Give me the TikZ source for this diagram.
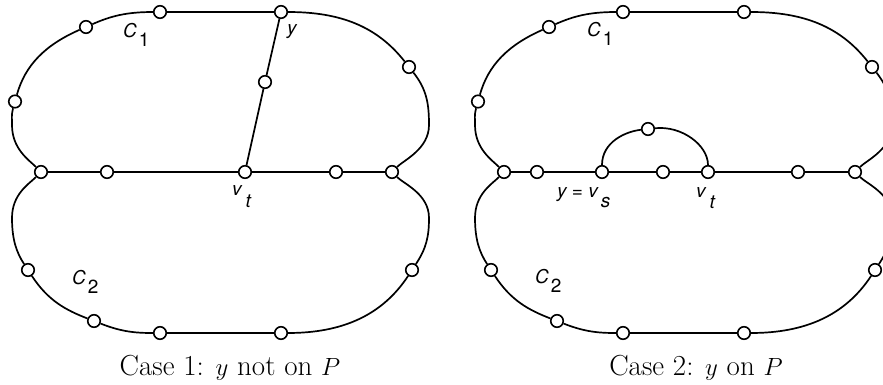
\documentclass[tikz,border=0pt]{standalone}
\usepackage{fontspec}
\setsansfont{TeX Gyre Heros}
\tikzset{
  vtx/.style={circle, draw, fill=white, line width=1.6pt, minimum size=12.5pt, inner sep=0pt},
  edge/.style={line width=1.7pt},
  lab/.style={font=\fontsize{19}{22}\selectfont\sffamily\itshape, inner sep=0pt, anchor=base west},
  capt/.style={font=\fontsize{29}{34}\selectfont, inner sep=0pt, anchor=base},
}
\newcommand\myouter{%
  \node[vtx] (m1) at (41,-172) {};
  \node[vtx] (m5) at (392,-172) {};
  \node[vtx] (t1) at (160,-12) {};
  \node[vtx] (t2) at (281,-12) {};
  \node[vtx] (tl1) at (86,-27) {};
  \node[vtx] (tl2) at (15,-101.5) {};
  \node[vtx] (tr1) at (409,-67) {};
  \node[vtx] (bl1) at (28,-270) {};
  \node[vtx] (bl2) at (94,-321) {};
  \node[vtx] (b1) at (160,-333) {};
  \node[vtx] (b2) at (281,-333) {};
  \node[vtx] (br1) at (412,-270) {};
  \coordinate (L) at (12,-125);
  \coordinate (R) at (429,-125);
  \coordinate (BL) at (12,-218);
  \coordinate (BR) at (429,-218);
  \draw[edge] (t2) -- (t1) to[out=180,in=23.8] (tl1) to[out=203.8,in=74.4] (tl2)
     to[out=254.4,in=90] (L) .. controls +(0,-24) and +(-12,12) .. (m1);
  \draw[edge] (t2) to[out=0,in=128.2] (tr1) to[out=-51.8,in=90] (R)
     .. controls +(0,-24) and +(12,12) .. (m5);
  \draw[edge] (m1) .. controls +(-12,-12) and +(0,24) .. (BL) to[out=270,in=123.3] (bl1)
     to[out=303.3,in=158.8] (bl2) to[out=338.8,in=180] (b1) -- (b2)
     to[out=0,in=236.7] (br1) to[out=56.7,in=270] (BR) .. controls +(0,24) and +(12,-12) .. (m5);
}
\begin{document}
\begin{tikzpicture}[x=1pt,y=1pt]
\useasboundingbox (0,0) rectangle (883,-385);
\clip (0,0) rectangle (883,-385);
% Case 1
\begin{scope}[name prefix=A-]
  \myouter
  \node[vtx] (m2) at (107,-172) {};
  \node[vtx] (vt) at (245,-172) {};
  \node[vtx] (m4) at (336,-172) {};
  \node[vtx] (c) at (265,-82) {};
  \draw[edge] (m1) -- (m2) -- (vt) -- (m4) -- (m5);
  \draw[edge] (t2) -- (c) -- (vt);
  \node[lab] (lc1) at (123,-37.5) {C\hspace{2pt}\raisebox{-9pt}{\upshape 1}};
  \node[lab] (ly) at (287,-35) {y};
  \node[lab] (lvt) at (232,-195) {v\hspace{4pt}\raisebox{-12pt}{t}};
  \node[lab] (lc2) at (72,-284) {C\hspace{2pt}\raisebox{-9pt}{\upshape 2}};
  \node[capt] (cap) at (230,-375) {Case 1: $y$ not on $P$};
\end{scope}
% Case 2
\begin{scope}[xshift=463pt, name prefix=B-]
  \myouter
  \node[vtx] (m2) at (74,-172) {};
  \node[vtx] (vs) at (139,-172) {};
  \node[vtx] (m3) at (200,-172) {};
  \node[vtx] (vt) at (245,-172) {};
  \node[vtx] (m4) at (335,-172) {};
  \node[vtx] (bn) at (185,-129) {};
  \draw[edge] (m1) -- (m2) -- (vs) -- (m3) -- (vt) -- (m4) -- (m5);
  \draw[edge] (vs) to[out=90,in=186.2] (bn) to[out=6.2,in=90] (vt);
  \node[lab] (lc1) at (124,-37) {C\hspace{2pt}\raisebox{-9pt}{\upshape 1}};
  \node[lab] (lys) at (94,-197) {y = v\hspace{3pt}\raisebox{-10pt}{s}};
  \node[lab] (lvt) at (233,-197) {v\hspace{4pt}\raisebox{-11pt}{t}};
  \node[lab] (lc2) at (72,-283) {C\hspace{2pt}\raisebox{-9pt}{\upshape 2}};
  \node[capt] (cap) at (233,-375) {Case 2: $y$ on $P$};
\end{scope}
\end{tikzpicture}
\end{document}
